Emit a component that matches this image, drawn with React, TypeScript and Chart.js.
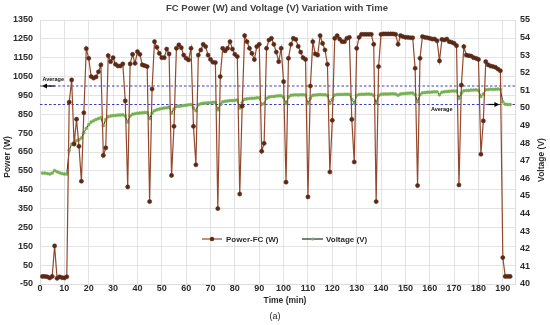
import React, { useEffect, useRef } from "react";
import { Chart, registerables } from "chart.js";

Chart.register(...registerables);

const TITLE = "FC Power (W) and Voltage (V) Variation with Time";
const X_TITLE = "Time (min)";
const Y_TITLE = "Power (W)";
const Y1_TITLE = "Voltage (V)";
const CAPTION = "(a)";
const POWER_LABEL = "Power-FC (W)";
const VOLTAGE_LABEL = "Voltage (V)";
const AVG_LABEL = "Average";

// sampling: one reading per minute starting at minute 1
const START_MIN = 1;

const powerW = [
  -10, -10, -12, -18, -10, 152, -20, -12, -16, -18, -12,
  914, 1032, 692, 824, 680, 495, 858,
  1198, 1147, 1050, 1042, 1048, 1075, 1112,
  632, 672,
  1161, 1129, 1150, 1115, 1106, 1106, 1117,
  921, 465,
  1117, 1168, 1120, 1182, 1168, 1112, 1108, 1103,
  387, 984,
  1235, 1205, 1173, 1150, 1150, 1196, 1170,
  526, 786,
  1200, 1218, 1203, 1164, 1147, 1138, 1200,
  786, 582,
  1164, 1191, 1221, 1209, 1164, 1141, 1126, 1124,
  350, 1050,
  1200, 1186, 1200, 1235, 1196, 1168, 1156,
  427, 893,
  1267, 1235, 1200, 1173, 1140, 1209, 1221,
  654, 696,
  1200, 1244, 1253, 1221, 1180, 1129, 1200, 1023, 490,
  1147, 1221, 1253, 1247, 1210, 1180, 1150, 1141,
  412, 1000,
  1235, 1170, 1164, 1267, 1226, 1191, 1115,
  544, 818,
  1253, 1267, 1249, 1235, 1235, 1253, 1258,
  823, 597,
  1200, 1258, 1274, 1274, 1274, 1274, 1274, 1221,
  387, 1103,
  1274, 1276, 1276, 1276, 1276, 1276, 1274, 1221, 1267, 1262, 1258, 1258, 1256, 1256,
  1094, 472, 1147,
  1262, 1258, 1256, 1253, 1249, 1249, 1240,
  1133,
  1247, 1244, 1249, 1235, 1232, 1226, 1214,
  475, 1005,
  1209, 1164, 1161, 1159, 1150, 1147, 1141,
  638, 815,
  1129, 1112, 1106, 1103, 1099, 1090, 1081,
  90, -10, -10, -10,
];

const voltageV = [
  46.3, 46.3, 46.28, 46.25, 46.3, 46.45, 46.38, 46.32, 46.28, 46.25, 46.25,
  47.6, 47.95, 48.05, 48.15, 48.2, 48.3, 48.6,
  48.85, 49.05, 49.2, 49.28, 49.35, 49.4, 49.45,
  49.0, 49.35,
  49.5, 49.55, 49.57, 49.58, 49.6, 49.6, 49.62,
  49.55, 49.2,
  49.55, 49.65, 49.68, 49.7, 49.72, 49.73, 49.75, 49.75,
  49.4, 49.72,
  49.85, 49.9, 49.94, 49.97, 50.0, 50.02, 50.05,
  49.7, 49.95,
  50.08, 50.1, 50.12, 50.14, 50.16, 50.18, 50.2,
  50.0, 49.85,
  50.18, 50.24, 50.27, 50.28, 50.3, 50.3, 50.32, 50.32,
  49.9, 50.2,
  50.35, 50.38, 50.4, 50.42, 50.42, 50.44, 50.45,
  50.0, 50.3,
  50.5, 50.52, 50.54, 50.55, 50.56, 50.58, 50.58,
  50.2, 50.25,
  50.55, 50.62, 50.65, 50.66, 50.68, 50.7, 50.7, 50.6, 50.25,
  50.62, 50.72, 50.74, 50.75, 50.74, 50.75, 50.75, 50.74,
  50.25, 50.55,
  50.72, 50.74, 50.75, 50.76, 50.75, 50.75, 50.72,
  50.27, 50.5,
  50.74, 50.76, 50.77, 50.77, 50.78, 50.78, 50.77,
  50.5, 50.27,
  50.72, 50.77, 50.78, 50.78, 50.79, 50.79, 50.78, 50.72,
  50.27, 50.7,
  50.78, 50.8, 50.8, 50.8, 50.81, 50.81, 50.8, 50.72, 50.8, 50.82, 50.83, 50.84, 50.85, 50.85,
  50.75, 50.36, 50.75,
  50.86, 50.88, 50.9, 50.9, 50.91, 50.92, 50.92,
  50.75,
  50.9, 50.93, 50.94, 50.95, 50.96, 50.97, 50.96,
  50.55, 50.85,
  50.98, 51.0, 51.0, 51.02, 51.02, 51.03, 51.0,
  50.65, 50.8,
  51.03, 51.05, 51.06, 51.06, 51.07, 51.08, 51.05,
  50.35, 50.22, 50.2, 50.2,
];

const AVG_POWER = 1000;
const AVG_VOLTAGE = 50.2;

const X_MIN = 0;
const X_MAX = 195;
const X_STEP = 10;
const Y_MIN = -50;
const Y_MAX = 1350;
const Y_STEP = 100;
const Y1_MIN = 40;
const Y1_MAX = 55;
const Y1_STEP = 1;

// annotation anchors in data units
const AVG_P_LABEL_AT = { x: 1, y: 1035 };
const AVG_P_ARROW = { from: 6, to: 0.8 };
const AVG_V_LABEL_AT = { x: 160.5, y: 49.93 };
const AVG_V_ARROW = { from: 184, to: 188.6 };

const FONT = '"Liberation Sans", Arial, sans-serif';
const POWER_LINE = "#94482c";
const POWER_PT = "#5a2a18";
const VOLT_LINE = "#22301f";
const VOLT_PT = "#76b253";
const AVG_COLOR = "#3d3dc4";
const GRID = "#dcdcdc";
const TEXT = "#2b2b2b";

function drawArrow(ctx: CanvasRenderingContext2D, x1: number, x2: number, y: number) {
  const dir = x2 > x1 ? 1 : -1;
  ctx.strokeStyle = "#000";
  ctx.fillStyle = "#000";
  ctx.lineWidth = 1.2;
  ctx.beginPath();
  ctx.moveTo(x1, y);
  ctx.lineTo(x2 - dir * 4, y);
  ctx.stroke();
  ctx.beginPath();
  ctx.moveTo(x2, y);
  ctx.lineTo(x2 - dir * 5, y - 2.5);
  ctx.lineTo(x2 - dir * 5, y + 2.5);
  ctx.closePath();
  ctx.fill();
}

const decor = {
  id: "decor",
  afterDraw(chart: any) {
    const { ctx, scales } = chart;
    const xs = scales.x, ys = scales.y, y1 = scales.y1;
    ctx.save();
    ctx.textBaseline = "middle";

    // title
    ctx.fillStyle = "#404040";
    ctx.textAlign = "center";
    ctx.font = `bold 9.5px ${FONT}`;
    ctx.fillText(TITLE, 277, 8);

    // x title and caption
    ctx.fillStyle = TEXT;
    ctx.font = `bold 8.5px ${FONT}`;
    ctx.fillText(X_TITLE, 285, 301);
    ctx.font = `9px ${FONT}`;
    ctx.fillStyle = "#222";
    ctx.fillText(CAPTION, 275, 317);

    // y titles (both reading bottom-to-top)
    ctx.fillStyle = TEXT;
    ctx.font = `bold 8.5px ${FONT}`;
    ctx.save();
    ctx.translate(8, 157);
    ctx.rotate(-Math.PI / 2);
    ctx.fillText(Y_TITLE, 0, 0);
    ctx.restore();
    ctx.save();
    ctx.translate(542, 160);
    ctx.rotate(-Math.PI / 2);
    ctx.fillText(Y1_TITLE, 0, 0);
    ctx.restore();

    // legend
    const ly = 239;
    ctx.font = `bold 8px ${FONT}`;
    ctx.textAlign = "left";
    ctx.lineWidth = 1.2;
    ctx.strokeStyle = POWER_LINE;
    ctx.beginPath(); ctx.moveTo(202, ly); ctx.lineTo(222, ly); ctx.stroke();
    ctx.fillStyle = POWER_PT;
    ctx.beginPath(); ctx.arc(212, ly, 2.2, 0, Math.PI * 2); ctx.fill();
    ctx.fillStyle = TEXT;
    ctx.fillText(POWER_LABEL, 226, ly + 0.5);
    ctx.strokeStyle = VOLT_LINE;
    ctx.beginPath(); ctx.moveTo(302, ly); ctx.lineTo(323, ly); ctx.stroke();
    ctx.fillStyle = VOLT_PT;
    ctx.beginPath(); ctx.arc(312.5, ly, 1.6, 0, Math.PI * 2); ctx.fill();
    ctx.fillStyle = TEXT;
    ctx.fillText(VOLTAGE_LABEL, 326, ly + 0.5);

    // average annotations
    ctx.font = `bold 5.5px ${FONT}`;
    ctx.fillStyle = "#111";
    ctx.fillText(AVG_LABEL, xs.getPixelForValue(AVG_P_LABEL_AT.x), ys.getPixelForValue(AVG_P_LABEL_AT.y));
    drawArrow(ctx, xs.getPixelForValue(AVG_P_ARROW.from), xs.getPixelForValue(AVG_P_ARROW.to), ys.getPixelForValue(AVG_POWER));
    ctx.fillStyle = "#111";
    ctx.fillText(AVG_LABEL, xs.getPixelForValue(AVG_V_LABEL_AT.x), y1.getPixelForValue(AVG_V_LABEL_AT.y));
    drawArrow(ctx, xs.getPixelForValue(AVG_V_ARROW.from), xs.getPixelForValue(AVG_V_ARROW.to), y1.getPixelForValue(AVG_VOLTAGE));

    ctx.restore();
  },
};

export default function App() {
  const ref = useRef<HTMLCanvasElement | null>(null);

  useEffect(() => {
    document.body.style.margin = "0";
    const canvas = ref.current;
    if (!canvas) return;
    const powerPts = powerW.map((v, i) => ({ x: START_MIN + i, y: v }));
    const voltPts = voltageV.map((v, i) => ({ x: START_MIN + i, y: v }));
    const tickFont = { family: FONT, size: 9, weight: "bold" as const };
    const plain = (v: any) => String(v);

    const chart = new Chart(canvas, {
      type: "line",
      data: {
        datasets: [
          {
            label: POWER_LABEL,
            data: powerPts,
            yAxisID: "y",
            borderColor: POWER_LINE,
            borderWidth: 1.2,
            pointRadius: 2.1,
            pointBackgroundColor: POWER_PT,
            pointBorderColor: POWER_PT,
            pointBorderWidth: 0.5,
            tension: 0,
            order: 0,
          },
          {
            label: VOLTAGE_LABEL,
            data: voltPts,
            yAxisID: "y1",
            borderColor: VOLT_LINE,
            borderWidth: 1,
            pointRadius: 1.5,
            pointBackgroundColor: VOLT_PT,
            pointBorderColor: VOLT_PT,
            pointBorderWidth: 0.5,
            tension: 0,
            order: 1,
          },
          {
            label: "avgP",
            data: [{ x: X_MIN, y: AVG_POWER }, { x: X_MAX, y: AVG_POWER }],
            yAxisID: "y",
            borderColor: AVG_COLOR,
            borderWidth: 1.2,
            borderDash: [2.5, 2],
            pointRadius: 0,
            order: 2,
          },
          {
            label: "avgV",
            data: [{ x: X_MIN, y: AVG_VOLTAGE }, { x: X_MAX, y: AVG_VOLTAGE }],
            yAxisID: "y1",
            borderColor: AVG_COLOR,
            borderWidth: 1.2,
            borderDash: [2.5, 2],
            pointRadius: 0,
            order: 2,
          },
        ],
      },
      options: {
        responsive: false,
        animation: false,
        layout: { padding: { top: 20, left: 0, right: 0, bottom: 0 } },
        plugins: {
          legend: { display: false },
          title: { display: false },
          tooltip: { enabled: false },
        },
        scales: {
          x: {
            type: "linear",
            min: X_MIN,
            max: X_MAX,
            grid: { color: GRID, lineWidth: 0.8, drawTicks: false },
            border: { color: GRID },
            ticks: {
              stepSize: X_STEP,
              includeBounds: false,
              font: tickFont,
              color: TEXT,
              padding: -1,
              maxRotation: 0,
              callback: plain,
            },
            afterFit: (s: any) => { s.height = 41; },
          },
          y: {
            position: "left",
            min: Y_MIN,
            max: Y_MAX,
            grid: { color: GRID, lineWidth: 0.8, drawTicks: false },
            border: { color: GRID },
            ticks: { stepSize: Y_STEP, font: tickFont, color: TEXT, padding: 7, callback: plain },
            afterFit: (s: any) => { s.width = 40; },
          },
          y1: {
            position: "right",
            min: Y1_MIN,
            max: Y1_MAX,
            grid: { drawOnChartArea: false, drawTicks: false },
            border: { color: GRID },
            ticks: { stepSize: Y1_STEP, font: tickFont, color: TEXT, padding: 5, callback: plain },
            afterFit: (s: any) => { s.width = 35; },
          },
        },
      },
      plugins: [decor],
    });
    return () => chart.destroy();
  }, []);

  return (
    <div style={{ width: 550, height: 325, background: "#fff" }}>
      <canvas ref={ref} width={550} height={325} />
    </div>
  );
}
